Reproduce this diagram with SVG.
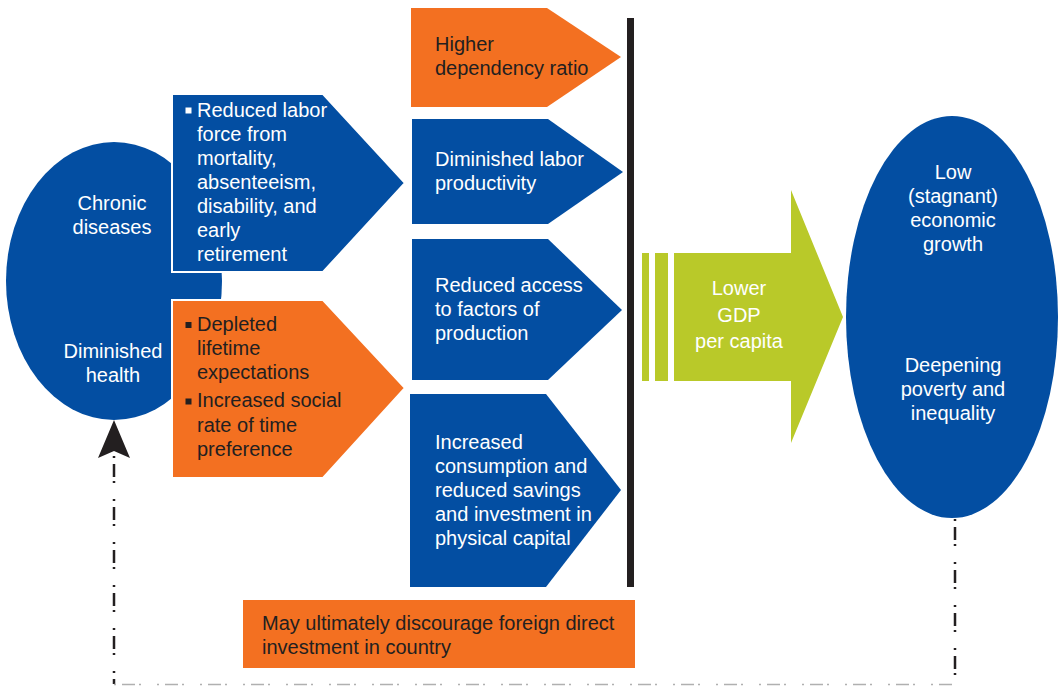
<svg xmlns="http://www.w3.org/2000/svg" width="1059" height="686" viewBox="0 0 1059 686">
<style>
.t{font-family:"Liberation Sans",Arial,sans-serif;font-size:20px}
.w{fill:#ffffff}
.d{fill:#231f20}
.blue{fill:#034ea2}
.orange{fill:#f37021}
.green{fill:#b9c929}
.dash{fill:none;stroke:#231f20;stroke-width:2.5;stroke-dasharray:2 6 13 4 2 16}
</style>
<rect width="1059" height="686" fill="#ffffff"/>
<g id="connectors">
<path class="dash" d="M114,456 V684"/>
<path d="M114,684.5 H955" fill="none" stroke="#b0b0b0" stroke-width="1.5" style="stroke-dasharray:2 6 13 4 2 16"/>
<path class="dash" d="M955,519 V684"/>
<polygon points="114,420 98,458 114,451 130,458" fill="#231f20"/>
</g>
<g id="chronic-diseases">
<ellipse class="blue" cx="114" cy="281" rx="108" ry="139"/>
<text class="t w" x="112" y="210" text-anchor="middle">Chronic</text>
<text class="t w" x="112" y="234" text-anchor="middle">diseases</text>
<text class="t w" x="113" y="358" text-anchor="middle">Diminished</text>
<text class="t w" x="113" y="382" text-anchor="middle">health</text>
</g>
<g id="reduced-labor">
<path class="blue" d="M172,94 H323 L405,183 L323,272 H172 Z" stroke="#ffffff" stroke-width="2"/>
<rect x="185.5" y="107.5" width="6" height="6" fill="#ffffff"/>
<text class="t w" x="197" y="117">Reduced labor</text>
<text class="t w" x="197" y="141">force from</text>
<text class="t w" x="197" y="165">mortality,</text>
<text class="t w" x="197" y="189">absenteeism,</text>
<text class="t w" x="197" y="213">disability, and</text>
<text class="t w" x="197" y="237">early</text>
<text class="t w" x="197" y="261">retirement</text>
</g>
<g id="depleted">
<path class="orange" d="M172,300 H323 L405,388 L323,478 H172 Z" stroke="#ffffff" stroke-width="2"/>
<rect x="185.5" y="322" width="6" height="6" fill="#231f20"/>
<rect x="185.5" y="398.5" width="6" height="6" fill="#231f20"/>
<text class="t d" x="197" y="331">Depleted</text>
<text class="t d" x="197" y="355">lifetime</text>
<text class="t d" x="197" y="379">expectations</text>
<text class="t d" x="197" y="407">Increased social</text>
<text class="t d" x="197" y="432">rate of time</text>
<text class="t d" x="197" y="456">preference</text>
</g>
<g id="dependency">
<path class="orange" d="M411,8 H547 L621,57 L547,107 H411 Z"/>
<text class="t d" x="435" y="51">Higher</text>
<text class="t d" x="435" y="75">dependency ratio</text>
</g>
<g id="productivity">
<path class="blue" d="M412,119 H548 L623,172 L548,224 H412 Z"/>
<text class="t w" x="435" y="166">Diminished labor</text>
<text class="t w" x="435" y="190">productivity</text>
</g>
<g id="factors">
<path class="blue" d="M412,239 H548 L622,310 L548,380 H412 Z"/>
<text class="t w" x="435" y="292">Reduced access</text>
<text class="t w" x="435" y="316">to factors of</text>
<text class="t w" x="435" y="340">production</text>
</g>
<g id="consumption">
<path class="blue" d="M410,394 H546 L621,490 L546,587 H410 Z"/>
<text class="t w" x="435" y="449">Increased</text>
<text class="t w" x="435" y="473">consumption and</text>
<text class="t w" x="435" y="497">reduced savings</text>
<text class="t w" x="435" y="521">and investment in</text>
<text class="t w" x="435" y="545">physical capital</text>
</g>
<g id="bar">
<rect x="627" y="18" width="7" height="569" fill="#231f20"/>
</g>
<g id="gdp">
<rect class="green" x="642" y="253" width="7" height="128"/>
<rect class="green" x="655" y="253" width="13" height="128"/>
<path class="green" d="M674,253 H791 V190 L843,317 L791,443 V381 H674 Z"/>
<text class="t w" x="739" y="295" text-anchor="middle">Lower</text>
<text class="t w" x="739" y="322" text-anchor="middle">GDP</text>
<text class="t w" x="739" y="348" text-anchor="middle">per capita</text>
</g>
<g id="growth">
<ellipse class="blue" cx="952" cy="317" rx="106" ry="201"/>
<text class="t w" x="953" y="179" text-anchor="middle">Low</text>
<text class="t w" x="953" y="203" text-anchor="middle">(stagnant)</text>
<text class="t w" x="953" y="227" text-anchor="middle">economic</text>
<text class="t w" x="953" y="251" text-anchor="middle">growth</text>
<text class="t w" x="953" y="372" text-anchor="middle">Deepening</text>
<text class="t w" x="953" y="396" text-anchor="middle">poverty and</text>
<text class="t w" x="953" y="420" text-anchor="middle">inequality</text>
</g>
<g id="fdi">
<rect class="orange" x="243" y="600" width="392" height="68"/>
<text class="t d" x="262" y="630">May ultimately discourage foreign direct</text>
<text class="t d" x="262" y="654">investment in country</text>
</g>
</svg>
